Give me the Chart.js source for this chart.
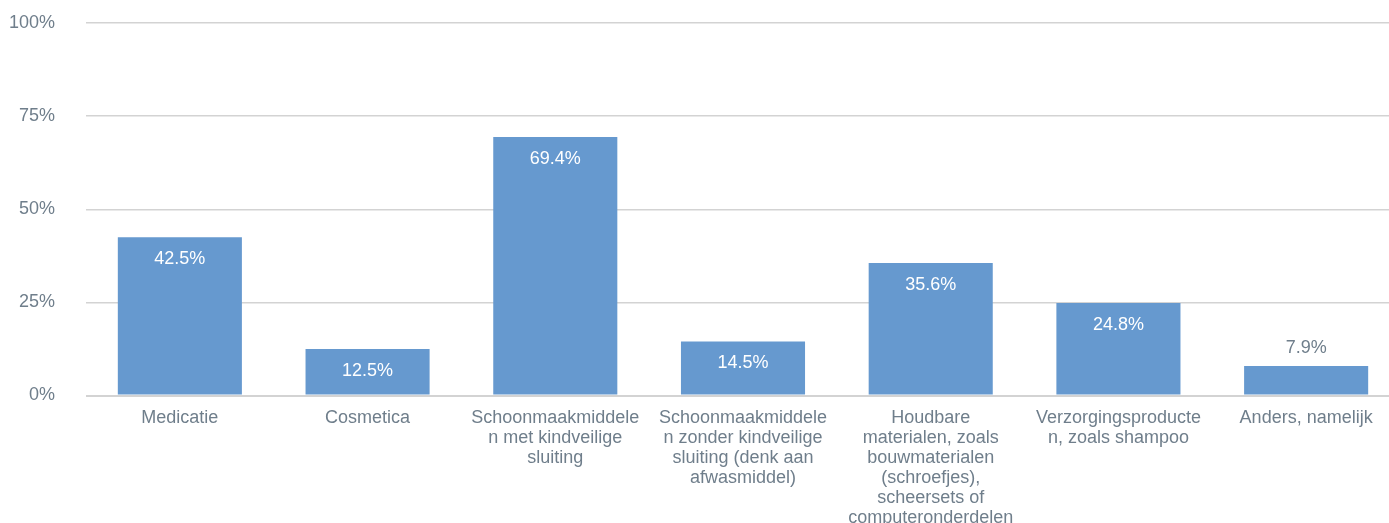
<!DOCTYPE html>
<html>
<head>
<meta charset="utf-8">
<script src="https://cdn.jsdelivr.net/npm/chart.js@4"></script>
<style>
  html, body { margin: 0; padding: 0; overflow: hidden; background: #fff; }
  #wrap { position: absolute; left: 0; top: 0; width: 1400px; height: 540px; }
</style>
</head>
<body>
<div id="wrap"><canvas id="barChart" width="1400" height="540"></canvas></div>
<script>
// categories (already broken into lines like the original)
const categories = [
    ['Medicatie'],
    ['Cosmetica'],
    ['Schoonmaakmiddele', 'n met kindveilige', 'sluiting'],
    ['Schoonmaakmiddele', 'n zonder kindveilige', 'sluiting (denk aan', 'afwasmiddel)'],
    ['Houdbare', 'materialen, zoals', 'bouwmaterialen', '(schroefjes),', 'scheersets of', 'computeronderdelen'],
    ['Verzorgingsproducte', 'n, zoals shampoo'],
    ['Anders, namelijk']
];
const values = [42.5, 12.5, 69.4, 14.5, 35.6, 24.8, 7.9];
const yTicks = [0, 25, 50, 75, 100];

const textColor = '#6f7e8b';
const barColor = '#6699cf';
const gridColor = '#d3d3d3';
const fontFamily = '"Liberation Sans", Arial, Helvetica, sans-serif';

// waarde-labels op de staven
const barLabels = {
    id: 'barLabels',
    afterDatasetsDraw(chart) {
        const ctx = chart.ctx;
        const meta = chart.getDatasetMeta(0);
        ctx.save();
        ctx.font = '18px ' + fontFamily;
        ctx.textAlign = 'center';
        ctx.textBaseline = 'middle';
        meta.data.forEach((bar, i) => {
            const txt = values[i].toFixed(1) + '%';
            const h = bar.base - bar.y;
            if (h > 36) {
                ctx.fillStyle = '#ffffff';
                ctx.fillText(txt, bar.x, bar.y + 22);
            } else {
                ctx.fillStyle = textColor;
                ctx.fillText(txt, bar.x, bar.y - 18);
            }
        });
        ctx.restore();
    }
};

const ctx = document.getElementById('barChart').getContext('2d');
new Chart(ctx, {
    type: 'bar',
    data: {
        labels: categories,
        datasets: [{
            data: values,
            backgroundColor: barColor,
            borderWidth: 0,
            barPercentage: 1,
            categoryPercentage: 0.661
        }]
    },
    options: {
        responsive: false,
        animation: false,
        layout: { padding: { top: 23, left: 0, right: 0, bottom: 0 } },
        plugins: { legend: { display: false }, tooltip: { enabled: false } },
        scales: {
            x: {
                grid: { display: false },
                border: { display: false },
                ticks: {
                    color: textColor,
                    font: { family: fontFamily, size: 18, lineHeight: 1.111 },
                    padding: 5,
                    maxRotation: 0,
                    autoSkip: false
                },
                afterFit(scale) { scale.height = 144.5; }
            },
            y: {
                min: 0,
                max: 100,
                afterBuildTicks(scale) { scale.ticks = yTicks.map(v => ({ value: v })); },
                grid: {
                    color: gridColor,
                    lineWidth: c => (c.tick && c.tick.value === 0 ? 2 : 1.5),
                    drawTicks: false
                },
                border: { display: false },
                ticks: {
                    color: textColor,
                    font: { family: fontFamily, size: 18 },
                    padding: 31,
                    callback: v => v + '%'
                },
                afterFit(scale) {
                    scale.width = 86;
                    scale.paddingTop = 0;
                    scale.paddingBottom = 0;
                }
            }
        }
    },
    plugins: [barLabels]
});
</script>
</body>
</html>
